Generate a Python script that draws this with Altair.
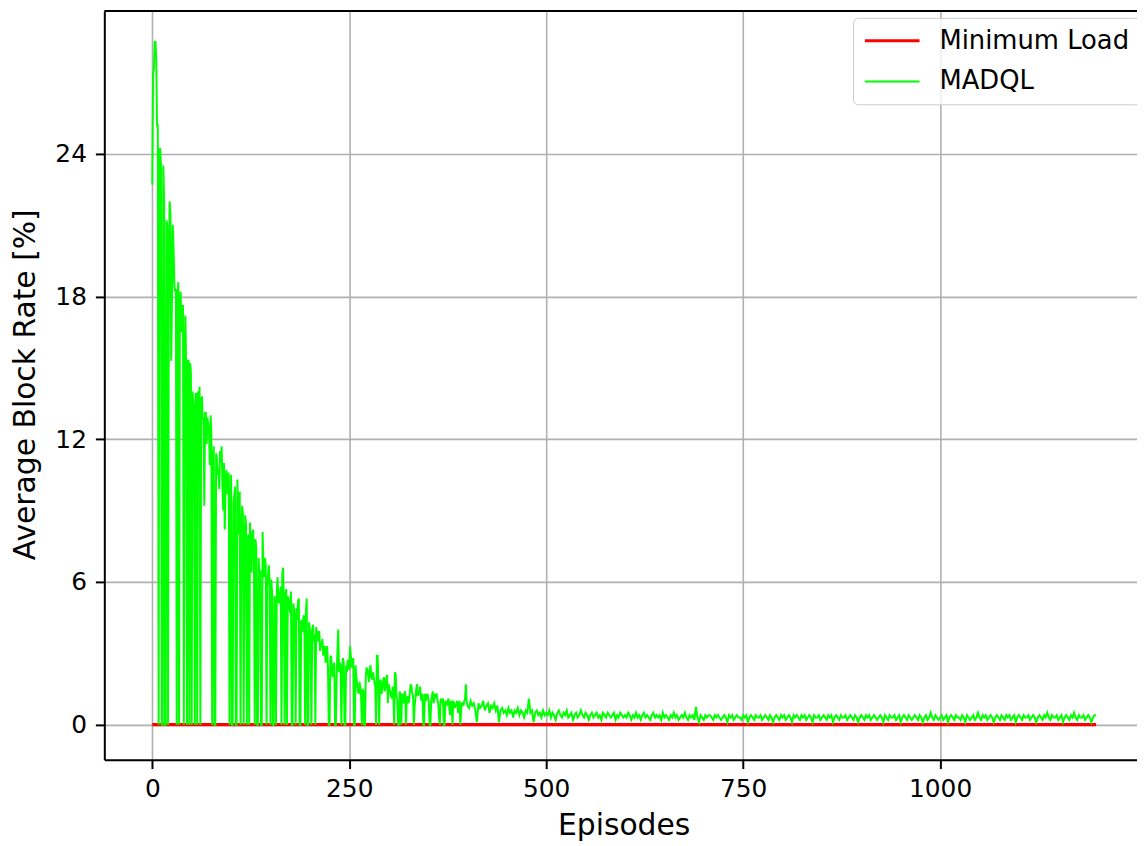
import altair as alt
import pandas as pd

# MADQL average block rate [%]
# even episodes 0..398
madql_even_000_198 = [
    22.7, 27.5, 28.7, 25.2, 0, 24.2, 0, 23.5, 0, 21.2,
    0, 22.0, 15.3, 21.0, 18.5, 18.3, 17.8, 0, 18.2, 17.6,
    0, 17.2, 0, 15.3, 15.2, 0, 13.6, 0, 13.9, 14.0,
    14.2, 13.5, 12.8, 9.2, 13.1, 12.9, 12.3, 13.0, 0, 11.7,
    0, 11.2, 10.7, 11.5, 11.7, 9.0, 8.2, 10.7, 10.2, 0,
    10.5, 0, 9.6, 0, 10.3, 8.0, 0, 9.2, 0, 8.8,
    0, 8.0, 8.5, 6.4, 8.2, 0, 7.4, 0, 6.3, 0,
    8.1, 6.2, 6.7, 5.8, 6.7, 0, 5.6, 0, 5.0, 5.6,
    5.3, 5.5, 0, 6.6, 0, 5.7, 5.4, 5.0, 5.6, 0,
    4.8, 0, 4.4, 5.3, 0, 4.2, 4.6, 0, 5.3, 0,
]
madql_even_200_398 = [
    4.0, 0, 4.2, 3.8, 4.1, 3.5, 3.9, 3.3, 3.6, 3.2,
    2.6, 3.3, 0, 2.7, 2.2, 2.5, 0, 2.0, 4.0, 2.6,
    0, 2.8, 0, 2.5, 2.7, 2.3, 2.9, 2.6, 0, 2.5,
    1.7, 1.3, 1.6, 0, 1.4, 0, 2.4, 2.1, 2.3, 2.0,
    2.2, 1.8, 0, 2.9, 0, 1.9, 1.5, 2.0, 1.6, 2.1,
    1.7, 1.4, 1.1, 1.3, 2.2, 1.2, 0, 1.4, 0, 1.1,
    1.3, 0, 1.2, 1.0, 1.7, 1.3, 0, 1.1, 1.7, 1.4,
    1.6, 1.0, 0, 1.3, 1.1, 1.2, 0, 1.0, 1.4, 1.1,
    1.2, 1.0, 0.3, 1.1, 0.9, 0, 1.0, 0.8, 1.1, 0.4,
    0.9, 1.0, 0.7, 0.9, 0.5, 1.0, 0.6, 0.9, 1.0, 1.7,
]
# odd episodes 1..399
madql_odd_001_199 = [
    27.4, 28.7, 28.0, 25.2, 24.2, 23.5, 0, 22.0, 0, 21.0,
    18.8, 21.5, 18.0, 20.0, 18.2, 0, 18.6, 17.9, 16.5, 17.6,
    15.3, 15.0, 15.3, 0, 14.8, 14.0, 13.2, 13.9, 0, 13.4,
    0, 13.8, 12.9, 13.1, 11.8, 12.6, 10.9, 12.2, 10.9, 0,
    11.4, 10.5, 9.9, 11.0, 10.1, 11.0, 10.0, 9.7, 10.6, 9.1,
    0, 9.4, 10.0, 0, 8.6, 9.8, 7.9, 8.9, 7.2, 8.4,
    7.7, 0, 7.3, 8.0, 6.9, 7.8, 0, 7.0, 6.5, 0,
    6.8, 7.0, 0, 6.3, 5.9, 6.1, 0, 5.4, 0, 6.2,
    5.1, 5.8, 6.3, 4.9, 5.5, 0, 5.2, 4.7, 0, 5.1,
    4.5, 4.9, 5.2, 0, 4.4, 3.9, 4.5, 4.8, 0, 4.3,
]
madql_odd_201_399 = [
    3.7, 4.0, 3.5, 0, 3.7, 3.9, 3.1, 3.4, 2.9, 3.3,
    2.9, 2.4, 0, 2.9, 2.0, 2.6, 0, 3.1, 2.2, 2.5,
    2.1, 2.6, 0, 2.2, 2.7, 3.3, 2.4, 2.8, 0, 2.0,
    1.4, 1.8, 1.2, 1.5, 0, 2.0, 2.3, 1.8, 2.5, 1.9,
    2.0, 1.6, 2.9, 1.7, 1.8, 1.3, 1.8, 1.4, 1.9, 0.9,
    1.5, 1.2, 1.6, 0, 2.1, 1.0, 0, 1.2, 1.3, 0.9,
    1.4, 1.1, 0.9, 1.4, 1.6, 1.2, 0.8, 1.5, 1.2, 1.3,
    1.1, 1.3, 0, 1.0, 1.3, 0.9, 0, 1.2, 0.9, 1.3,
    1.25, 0.9, 0, 1.0, 1.1, 0, 0.9, 1.0, 0.7, 1.0,
    0, 0.9, 0.8, 1.0, 0.7, 0, 0.9, 0.8, 1.1, 1.0,
]
# every 2nd episode 400..1198
madql_400_598 = [
    0.8, 0.7, 1.0, 0.8, 0.9, 0.6, 0.1, 0.9, 0.7, 0.8,
    1.0, 0.6, 0.8, 0.9, 0.5, 0.8, 0.7, 0.9, 0.6, 0.8,
    0.1, 0.6, 0.7, 0.5, 0.6, 0.4, 0.7, 0.5, 0.6, 0.3,
    0.6, 0.5, 0.7, 0.4, 0.6, 0.5, 0.3, 0.6, 0.5, 1.1,
    0.5, 0.6, 0.1, 0.5, 0.6, 0.4, 0.5, 0.3, 0.6, 0.4,
    0.5, 0.4, 0.6, 0.3, 0.5, 0.4, 0.2, 0.5, 0.6, 0.4,
    0.3, 0.5, 0.4, 0.6, 0.3, 0.4, 0.5, 0.2, 0.4, 0.5,
    0.3, 0.4, 0.6, 0.4, 0.3, 0.5, 0.4, 0.2, 0.4, 0.5,
    0.3, 0.4, 0.5, 0.3, 0.4, 0.2, 0.5, 0.4, 0.3, 0.5,
    0.4, 0.3, 0.4, 0.5, 0.2, 0.4, 0.3, 0.5, 0.4, 0.3,
]
madql_600_798 = [
    0.4, 0.3, 0.5, 0.4, 0.2, 0.4, 0.3, 0.5, 0.3, 0.4,
    0.2, 0.4, 0.5, 0.3, 0.4, 0.3, 0.2, 0.4, 0.5, 0.3,
    0.4, 0.3, 0.4, 0.2, 0.5, 0.3, 0.4, 0.3, 0.2, 0.4,
    0.3, 0.5, 0.3, 0.4, 0.2, 0.3, 0.4, 0.3, 0.5, 0.3,
    0.2, 0.4, 0.3, 0.4, 0.2, 0.75, 0.3, 0.1, 0.4, 0.3,
    0.2, 0.4, 0.3, 0.4, 0.4, 0.3, 0.2, 0.4, 0.3, 0.4,
    0.3, 0.2, 0.3, 0.4, 0.3, 0.1, 0.4, 0.3, 0.4, 0.2,
    0.3, 0.4, 0.3, 0.3, 0.2, 0.4, 0.3, 0.4, 0.1, 0.3,
    0.4, 0.3, 0.2, 0.4, 0.3, 0.3, 0.4, 0.2, 0.3, 0.4,
    0.3, 0.2, 0.4, 0.3, 0.1, 0.3, 0.4, 0.3, 0.2, 0.4,
]
madql_800_998 = [
    0.3, 0.4, 0.2, 0.3, 0.4, 0.3, 0.1, 0.4, 0.3, 0.4,
    0.3, 0.2, 0.4, 0.3, 0.4, 0.2, 0.3, 0.4, 0.3, 0.1,
    0.4, 0.3, 0.3, 0.4, 0.2, 0.3, 0.4, 0.3, 0.2, 0.4,
    0.3, 0.4, 0.1, 0.3, 0.4, 0.3, 0.2, 0.4, 0.3, 0.3,
    0.4, 0.2, 0.3, 0.4, 0.3, 0.2, 0.4, 0.3, 0.1, 0.3,
    0.4, 0.3, 0.2, 0.4, 0.3, 0.4, 0.2, 0.3, 0.4, 0.3,
    0.2, 0.3, 0.4, 0.3, 0.1, 0.4, 0.3, 0.2, 0.4, 0.3,
    0.3, 0.4, 0.2, 0.3, 0.4, 0.1, 0.3, 0.4, 0.3, 0.2,
    0.4, 0.3, 0.2, 0.3, 0.4, 0.3, 0.2, 0.4, 0.3, 0.1,
    0.3, 0.4, 0.2, 0.3, 0.5, 0.3, 0.2, 0.4, 0.3, 0.2,
]
madql_1000_1198 = [
    0.3, 0.4, 0.2, 0.3, 0.4, 0.1, 0.3, 0.4, 0.3, 0.2,
    0.4, 0.3, 0.3, 0.2, 0.4, 0.3, 0.1, 0.4, 0.3, 0.2,
    0.3, 0.4, 0.2, 0.3, 0.5, 0.3, 0.2, 0.4, 0.3, 0.4,
    0.2, 0.3, 0.4, 0.3, 0.1, 0.3, 0.4, 0.3, 0.2, 0.4,
    0.3, 0.2, 0.4, 0.3, 0.4, 0.2, 0.3, 0.4, 0.1, 0.3,
    0.4, 0.3, 0.2, 0.4, 0.3, 0.3, 0.4, 0.2, 0.3, 0.4,
    0.3, 0.1, 0.3, 0.4, 0.3, 0.2, 0.4, 0.3, 0.5, 0.3,
    0.2, 0.4, 0.3, 0.3, 0.4, 0.2, 0.3, 0.4, 0.1, 0.3,
    0.4, 0.3, 0.2, 0.4, 0.3, 0.5, 0.3, 0.2, 0.4, 0.3,
    0.3, 0.4, 0.2, 0.3, 0.4, 0.3, 0.1, 0.3, 0.4, 0.4,
]

# assemble: every episode 0..399, every 2nd episode 400..1198
even_early = madql_even_000_198 + madql_even_200_398
odd_early = madql_odd_001_199 + madql_odd_201_399
episodes, madql = [], []
for i, (ev, od) in enumerate(zip(even_early, odd_early)):
    episodes += [2 * i, 2 * i + 1]
    madql += [ev, od]
late = madql_400_598 + madql_600_798 + madql_800_998 + madql_1000_1198
episodes += list(range(400, 1200, 2))
madql += late

# Minimum Load block rate stays at zero
min_load = [0.0] * len(episodes)

series_names = ["Minimum Load", "MADQL"]
series_colors = ["#ff0000", "#00ff00"]
series_widths = [3.2, 2.0]

x_ticks = [0, 250, 500, 750, 1000]
y_ticks = [0, 6, 12, 18, 24]

df = pd.DataFrame({
    "Episodes": episodes + episodes,
    "value": min_load + madql,
    "series": [series_names[0]] * len(episodes) + [series_names[1]] * len(episodes),
})

FONT = "DejaVu Sans"
W, H = 1040, 754

legend = alt.Legend(
    title=None, orient="none", legendX=754, legendY=7,
    symbolType="M-1,0H4", symbolSize=484, labelFontSize=26, labelFont=FONT,
    labelColor="black", labelOffset=51, labelLimit=0,
    fillColor="rgba(255,255,255,0.8)", strokeColor="#cccccc",
    cornerRadius=5, padding=10, rowPadding=15,
)

base = alt.Chart(df).encode(
    x=alt.X("Episodes:Q",
            scale=alt.Scale(domain=[-60.9, 1249.9], nice=False, zero=False),
            axis=alt.Axis(values=x_ticks, format="d", title="Episodes",
                          labelFontSize=25, labelFont=FONT, labelColor="black",
                          labelPadding=8, labelFlush=False, labelOverlap=False,
                          tickSize=9, tickWidth=2, tickColor="black",
                          domainColor="black", domainWidth=2,
                          grid=True, gridColor="#b0b0b0", gridWidth=1.6,
                          titleFontSize=30, titleFont=FONT, titleFontWeight="normal",
                          titleColor="black", titleBaseline="alphabetic",
                          titleX=523, titleY=75)),
    y=alt.Y("value:Q",
            scale=alt.Scale(domain=[-1.47, 30.0], nice=False, zero=False),
            axis=alt.Axis(values=y_ticks, format="d", title="Average Block Rate [%]",
                          labelFontSize=25, labelFont=FONT, labelColor="black",
                          labelPadding=9, labelFlush=False, labelOverlap=False,
                          tickSize=9, tickWidth=2, tickColor="black",
                          domainColor="black", domainWidth=2,
                          grid=True, gridColor="#b0b0b0", gridWidth=1.6,
                          titleFontSize=30, titleFont=FONT, titleFontWeight="normal",
                          titleColor="black", titleBaseline="alphabetic",
                          titleAngle=270, titleX=-70, titleY=376)),
    color=alt.Color("series:N",
                    scale=alt.Scale(domain=series_names, range=series_colors),
                    legend=legend),
    strokeWidth=alt.StrokeWidth("series:N",
                                scale=alt.Scale(domain=series_names, range=series_widths),
                                legend=legend),
)

red = base.mark_line().transform_filter(alt.datum.series == series_names[0])
green = base.mark_line().transform_filter(alt.datum.series == series_names[1])

top_frame = alt.Chart(pd.DataFrame({"a": [0]})).mark_rule(
    color="black", strokeWidth=2
).encode(x=alt.value(0), x2=alt.value(W), y=alt.value(0))

chart = alt.layer(red, green, top_frame).properties(
    width=W, height=H,
    autosize=alt.AutoSizeParams(type="none"),
    padding={"left": 97, "top": 0, "right": 0, "bottom": 84},
).configure_view(stroke=None).configure(font=FONT)

chart.save("out.html", embed_options={"renderer": "svg", "actions": False})
